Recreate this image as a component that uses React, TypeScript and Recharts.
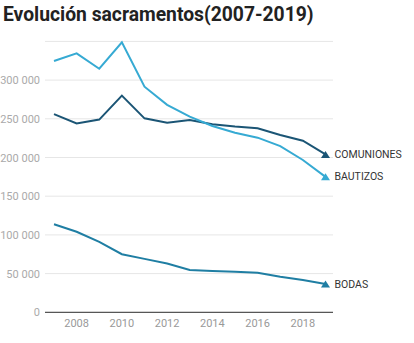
import React from "react";
import { LineChart, Line, XAxis, YAxis, CartesianGrid } from "recharts";

const years = [2007, 2008, 2009, 2010, 2011, 2012, 2013, 2014, 2015, 2016, 2017, 2018, 2019];
const bautizos = [324700, 334600, 314700, 348800, 291500, 268000, 252700, 240700, 232000, 225600, 214800, 196800, 175000];
const comuniones = [256000, 244000, 249000, 280000, 250600, 245000, 248500, 243000, 240000, 237700, 229000, 221700, 204000];
const bodas = [113700, 104000, 91000, 75000, 69000, 63000, 54600, 53400, 52500, 51200, 46000, 41700, 36600];
const xTicks = [2008, 2010, 2012, 2014, 2016, 2018];
const yTicks = [0, 50000, 100000, 150000, 200000, 250000, 300000];
const seriesNames = { bautizos: "BAUTIZOS", comuniones: "COMUNIONES", bodas: "BODAS" };

const data = years.map((y, i) => ({
  year: y,
  bautizos: bautizos[i],
  comuniones: comuniones[i],
  bodas: bodas[i],
}));

const FONT = "Roboto, 'Noto Sans', sans-serif";

const fmt = (v: number) => (v === 0 ? "0" : String(v).replace(/\B(?=(\d{3})+(?!\d))/g, " "));

const YTick = (props: any) => {
  const { x, y, payload } = props;
  return (
    <text x={x} y={y} dy={4} textAnchor="end" fontSize={11} fill="#aaa" fontFamily={FONT}>
      {fmt(payload.value)}
    </text>
  );
};

const XTick = (props: any) => {
  const { x, y, payload } = props;
  return (
    <text x={x} y={y} dy={8} textAnchor="middle" fontSize={11} fill="#999" fontFamily={FONT}>
      {String(payload.value)}
    </text>
  );
};

const makeDot = (label: string, color: string) => (props: any) => {
  const { cx, cy, index } = props;
  if (index !== years.length - 1) return <g key={`d${index}`} />;
  const w = 4.5;
  const h = 7;
  return (
    <g key={`d${index}`}>
      <polygon
        points={`${cx - w},${cy + h / 2} ${cx + w},${cy + h / 2} ${cx},${cy - h / 2}`}
        fill={color}
      />
      <text x={cx + 9} y={cy + 3.6} fontSize={10.5} fill="#333" fontFamily={FONT}>
        {label}
      </text>
    </g>
  );
};

export default function App() {
  return (
    <div style={{ position: "absolute", left: 0, top: 0, width: 414, height: 343, background: "#fff" }}>
      <div
        style={{
          position: "absolute",
          left: 3,
          top: 3,
          fontFamily: FONT,
          fontWeight: 700,
          fontSize: 19.3,
          color: "#222",
          whiteSpace: "nowrap",
        }}
      >
        Evolución sacramentos(2007-2019)
      </div>
      <div style={{ position: "absolute", left: 0, top: 0 }}>
        <LineChart
          width={414}
          height={343}
          data={data}
          margin={{ top: 41.4, right: 81, bottom: 0, left: 0 }}
        >
          <CartesianGrid horizontal vertical={false} stroke="#e6e6e6" strokeWidth={1} />
          <XAxis
            dataKey="year"
            type="number"
            domain={[2007, 2019]}
            ticks={xTicks}
            padding={{ left: 9, right: 7.5 }}
            height={30.7}
            tickSize={0}
            tickMargin={7}
            axisLine={{ stroke: "#333", strokeWidth: 1 }}
            tickLine={false}
            tick={<XTick />}
          />
          <YAxis
            type="number"
            domain={[0, 350000]}
            ticks={yTicks}
            width={45}
            tickSize={0}
            tickMargin={5}
            axisLine={false}
            tickLine={false}
            tick={<YTick />}
          />
          <Line
            dataKey="bodas"
            stroke="#1f7ea3"
            strokeWidth={2}
            dot={makeDot(seriesNames.bodas, "#1f7ea3")}
            activeDot={false}
            isAnimationActive={false}
          />
          <Line
            dataKey="comuniones"
            stroke="#1b5575"
            strokeWidth={2}
            dot={makeDot(seriesNames.comuniones, "#1b5575")}
            activeDot={false}
            isAnimationActive={false}
          />
          <Line
            dataKey="bautizos"
            stroke="#36aad3"
            strokeWidth={2}
            dot={makeDot(seriesNames.bautizos, "#36aad3")}
            activeDot={false}
            isAnimationActive={false}
          />
        </LineChart>
      </div>
    </div>
  );
}
